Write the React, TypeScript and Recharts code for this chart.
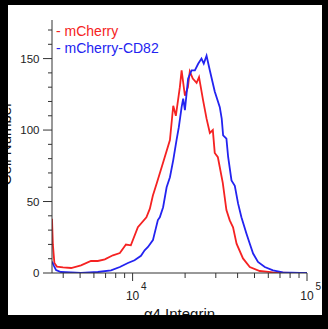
import React from 'react'
import { LineChart, Line, XAxis, YAxis, Legend, Label } from 'recharts'

const FONT = '"Liberation Sans", Arial, Helvetica, sans-serif'

// x axis: alpha4 integrin intensity (log), y axis: cell count
const xTicks = [4000, 5000, 6000, 7000, 8000, 9000, 10000, 20000, 30000, 40000, 50000, 60000, 70000, 80000, 90000, 100000]
const xMajor = [10000, 100000]
const yTicks = [0, 10, 20, 30, 40, 50, 60, 70, 80, 90, 100, 110, 120, 130, 140, 150, 160, 170]
const yMajor = [0, 50, 100, 150]

const mCherryX = [3450, 3490, 3560, 3680, 3990, 4440, 5060, 5770, 6320, 6930, 7710, 8450, 9160, 9770, 10720, 12000, 12560, 13060, 13770, 14930, 16370, 17100, 17700, 18660, 19100, 19950, 20750, 21280, 22130, 23280, 24040, 25350, 26550, 27730, 28840, 29580, 30830, 32890, 34510, 36060, 37670, 39450, 42950, 46990, 53580, 63680, 79620, 100000]
const mCherryY = [38, 20, 7, 4.5, 4, 3.5, 5.4, 8.4, 8.4, 9.6, 12.4, 14, 19.9, 19.4, 32, 39, 45, 54, 63, 77, 93, 117, 110, 130, 141.7, 124, 130, 141, 136, 133, 137, 121, 108, 98, 100, 84, 81, 63, 44, 36.8, 32, 20.5, 10.2, 4.2, 1.4, 0.5, 0, 0]

const cd82X = [3450, 3540, 3640, 3880, 5060, 6320, 7520, 8450, 9400, 10260, 11170, 11720, 12250, 13080, 13960, 14320, 14960, 15670, 16370, 17100, 17860, 18410, 19100, 19500, 19950, 20800, 21780, 22750, 23770, 24830, 25590, 26550, 27730, 29580, 31620, 32430, 33040, 34510, 35320, 36900, 38550, 40270, 42070, 44980, 46990, 49090, 52360, 57280, 63830, 72610, 91000, 100000]
const cd82Y = [8, 5, 2, 0.7, 0, 0.7, 1.9, 4.2, 7, 8.9, 12, 15.9, 18.2, 23, 37, 39, 46, 60, 67, 79, 93, 102, 116, 122, 114, 136, 141.7, 141.7, 146.4, 150, 146.5, 152, 141.7, 127, 116, 108, 96.3, 94, 81, 64.8, 61, 48.5, 39, 27.5, 20.5, 13.6, 7.7, 4.2, 1.9, 0.5, 0, 0]

const mCherry = mCherryX.map((x, i) => ({ x, count: mCherryY[i] }))
const cd82 = cd82X.map((x, i) => ({ x, count: cd82Y[i] }))

const AXIS = '#333'

function XTick({ x, y, payload }: any) {
  const major = xMajor.includes(payload.value)
  const exp = Math.round(Math.log10(payload.value))
  return (
    <g>
      <line x1={x} x2={x} y1={y} y2={y + (major ? 8 : 5)} stroke={AXIS} />
      {major && (
        <text x={x} y={y + 26.5} textAnchor="middle" fontSize={12} fill="#222" fontFamily={FONT}>
          10
        </text>
      )}
      {major && (
        <text x={x + 8.5} y={y + 17} textAnchor="start" fontSize={10} fill="#222" fontFamily={FONT}>
          {String(exp)}
        </text>
      )}
    </g>
  )
}

function YTick({ x, y, payload }: any) {
  const major = yMajor.includes(payload.value)
  return (
    <g>
      <line x1={x} x2={x - (major ? 9 : 4)} y1={y} y2={y} stroke={AXIS} />
      {major && (
        <text x={x - 12.5} y={y} dy="0.35em" textAnchor="end" fontSize={11.5} fill="#222" fontFamily={FONT}>
          {payload.value}
        </text>
      )}
    </g>
  )
}

function LegendBox({ payload }: any) {
  return (
    <div style={{ fontFamily: FONT, fontSize: 14, lineHeight: '16.6px', whiteSpace: 'nowrap' }}>
      {(payload || []).map((p: any) => (
        <div key={p.value} style={{ color: p.color }}>
          - {p.value}
        </div>
      ))}
    </div>
  )
}

const bar = (s: React.CSSProperties): React.CSSProperties => ({ position: 'absolute', background: '#000', ...s })

export default function App() {
  return (
    <div style={{ position: 'fixed', left: 0, top: 0, width: 328, height: 329, background: '#fff', overflow: 'hidden' }}>
      <LineChart width={328} height={329} margin={{ top: 20, right: 21, bottom: 0, left: 8 }}>
        <XAxis
          dataKey="x"
          type="number"
          scale="log"
          domain={[3450, 100000]}
          allowDataOverflow
          ticks={xTicks}
          interval={0}
          height={56}
          tickSize={0}
          tickMargin={0}
          tickLine={false}
          tick={<XTick />}
          axisLine={{ stroke: AXIS }}
        >
          <Label
            content={({ viewBox }: any) => (
              <text
                x={viewBox.x + viewBox.width / 2}
                y={319}
                textAnchor="middle"
                fontSize={15}
                fill="#111"
                fontFamily={FONT}
              >
                α4 Integrin
              </text>
            )}
          />
        </XAxis>
        <XAxis
          xAxisId="top"
          orientation="top"
          type="number"
          domain={[0, 1]}
          height={0}
          tick={false}
          tickLine={false}
          axisLine={{ stroke: AXIS }}
        />
        <YAxis
          type="number"
          domain={[0, 177]}
          allowDataOverflow
          ticks={yTicks}
          interval={0}
          width={44}
          tickSize={0}
          tickMargin={0}
          tickLine={false}
          tick={<YTick />}
          axisLine={{ stroke: AXIS }}
        >
          <Label
            content={({ viewBox }: any) => {
              const cy = viewBox.y + viewBox.height / 2 - 3
              return (
                <text
                  x={11}
                  y={cy}
                  transform={`rotate(-90, 11, ${cy})`}
                  textAnchor="middle"
                  fontSize={15}
                  fill="#111"
                  fontFamily={FONT}
                >
                  Cell Number
                </text>
              )
            }}
          />
        </YAxis>
        <YAxis
          yAxisId="right"
          orientation="right"
          type="number"
          domain={[0, 1]}
          width={0}
          tick={false}
          tickLine={false}
          axisLine={{ stroke: AXIS }}
        />
        <Legend
          layout="vertical"
          align="center"
          verticalAlign="middle"
          wrapperStyle={{ left: 56, top: 23, width: 'auto', height: 'auto' }}
          content={<LegendBox />}
        />
        <Line
          data={mCherry}
          dataKey="count"
          name="mCherry"
          type="linear"
          stroke="#f52222"
          strokeWidth={1.8}
          dot={false}
          isAnimationActive={false}
        />
        <Line
          data={cd82}
          dataKey="count"
          name="mCherry-CD82"
          type="linear"
          stroke="#2323f0"
          strokeWidth={1.8}
          dot={false}
          isAnimationActive={false}
        />
      </LineChart>
      {/* black frame around the white figure panel */}
      <div style={bar({ left: 0, top: 0, width: 328, height: 5 })} />
      <div style={bar({ left: 0, top: 315, width: 328, height: 14 })} />
      <div style={bar({ left: 0, top: 0, width: 8, height: 329 })} />
      <div style={bar({ left: 322, top: 0, width: 6, height: 329 })} />
    </div>
  )
}
